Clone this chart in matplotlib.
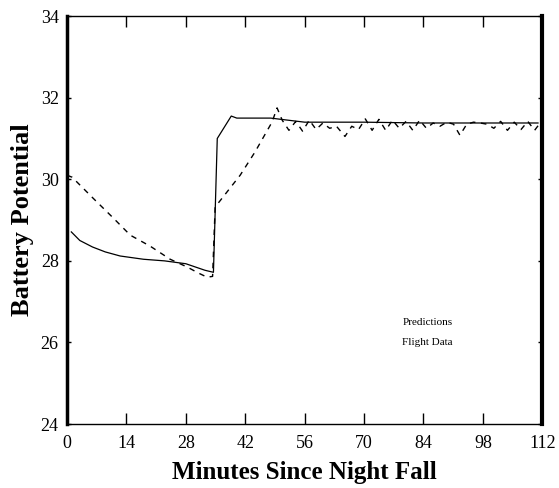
import matplotlib
matplotlib.use('Agg')
import matplotlib.pyplot as plt

plt.rcParams['font.family'] = ['Liberation Serif', 'DejaVu Serif']

# Predictions (solid)
predMinutes = [1, 3, 6, 9, 12.5, 18, 23, 28, 32.5, 34.5, 35.4, 38.7, 40, 48, 56, 70, 84, 98, 111]
predVolts = [28.71, 28.5, 28.34, 28.22, 28.12, 28.04, 28.0, 27.93, 27.77, 27.72, 31.0, 31.55, 31.5, 31.5, 31.4, 31.4, 31.38, 31.38, 31.38]

# Flight data (dashed)
flightMinutes = [0, 1.2, 6.1, 10.9, 14.9, 19.6, 24.3, 28.3, 31, 33, 34.3, 34.9, 40.8, 44.3, 48.3, 49.5,
                 50.7, 52.3, 53.9, 55.5, 57.1, 58.7, 60.3, 61.9, 63.5, 65.5, 67.1, 68.7, 70.3, 71.9,
                 73.5, 75.1, 76.7, 78.3, 79.9, 81.5, 83.1, 84.7, 86.3, 87.9, 89.5, 91.1, 92.6, 94.2,
                 95.8, 97.4, 99.0, 100.6, 102.2, 103.8, 105.4, 107.0, 108.6, 110.2, 111.5]
flightVolts = [30.1, 30.05, 29.54, 29.05, 28.63, 28.36, 28.04, 27.85, 27.7, 27.6, 27.62, 29.32, 30.1, 30.67, 31.4, 31.75,
               31.45, 31.2, 31.42, 31.18, 31.45, 31.22, 31.38, 31.25, 31.3, 31.05, 31.3, 31.22, 31.48, 31.2,
               31.47, 31.2, 31.45, 31.25, 31.42, 31.2, 31.45, 31.25, 31.38, 31.3, 31.4, 31.35, 31.08, 31.35,
               31.4, 31.38, 31.35, 31.25, 31.42, 31.2, 31.4, 31.22, 31.42, 31.2, 31.38]

xTicks = [0, 14, 28, 42, 56, 70, 84, 98, 112]
yTicks = [24, 26, 28, 30, 32, 34]

fig = plt.figure(figsize=(5.59, 4.88), dpi=100)
ax = fig.add_axes([0.120, 0.131, 0.850, 0.836])

ax.plot(predMinutes, predVolts, color='black', linewidth=0.9, linestyle='-')
ax.plot(flightMinutes, flightVolts, color='black', linewidth=1.0, linestyle=(0, (4, 4)))

ax.set_xlim(0, 112)
ax.set_ylim(24, 34)
ax.set_xticks(xTicks)
ax.set_yticks(yTicks)
ax.tick_params(axis='x', direction='in', top=True, bottom=True, length=8, width=1, labelsize=13, pad=8)
ax.tick_params(axis='y', direction='in', left=True, right=True, length=3, width=1, labelsize=13, pad=6)

ax.spines['left'].set_linewidth(2.5)
ax.spines['right'].set_linewidth(3)
ax.spines['top'].set_linewidth(1)
ax.spines['bottom'].set_linewidth(1)

ax.set_xlabel('Minutes Since Night Fall', fontsize=18, fontweight='bold', labelpad=6)
ax.set_ylabel('Battery Potential', fontsize=19, fontweight='bold', labelpad=5)

ax.text(79, 26.5, 'Predictions', fontsize=8, va='center')
ax.text(79, 26.0, 'Flight Data', fontsize=8, va='center')

fig.savefig('out.png', dpi=100)
